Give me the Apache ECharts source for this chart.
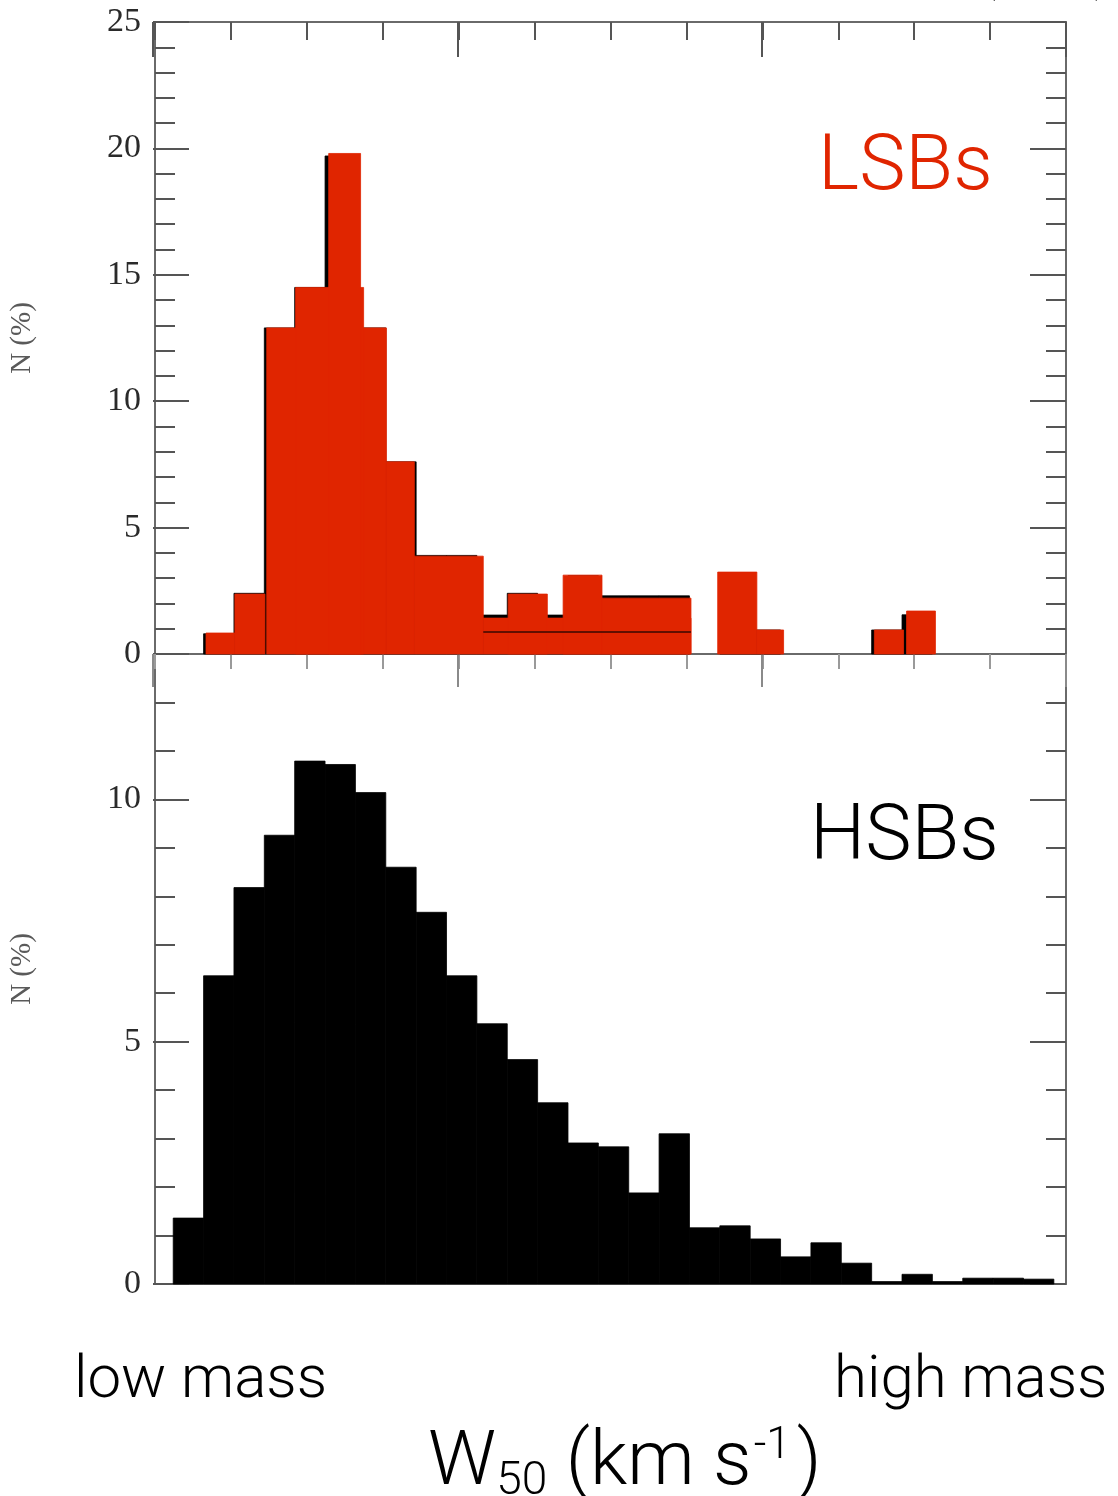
<!DOCTYPE html>
<html><head><meta charset="utf-8">
<script src="https://cdn.jsdelivr.net/npm/echarts@6/dist/echarts.min.js"></script>
<style>html,body{margin:0;padding:0;background:#fff}#c{width:1118px;height:1496px}</style>
</head><body><div id="c"></div>
<script>
// ---- LSB panel: red overlay blocks (W50 in km/s, N in %) ----
const lsbStart = [16.8, 26.3, 36.8, 46.3, 57.2, 76.2, 85.4, 108.1, 116.3, 134.4, 147.2, 185.3, 198.2, 236.9, 247.5];
const lsbEnd   = [26.3, 36.2, 76.2, 68.7, 67.7, 85.4, 108.1, 176.5, 129.2, 147.2, 176.5, 198.2, 207.0, 246.5, 257.0];
const lsbValue = [0.83, 2.37, 12.9, 14.5, 19.8, 7.6, 3.87, 1.42, 2.37, 3.12, 2.21, 3.24, 0.95, 0.95, 1.7];
// original black LSB histogram peeking out under the red blocks (10 km/s bins)
const lsbBinStart = [16, 26, 36, 46, 56, 66, 76, 86, 96, 106, 116, 126, 136, 146, 156, 166, 186, 196, 236, 246];
const lsbBinValue = [0.8, 2.4, 12.9, 14.5, 19.7, 12.9, 7.6, 3.9, 3.9, 1.54, 2.4, 1.54, 3.1, 2.3, 2.3, 2.3, 3.2, 0.95, 0.95, 1.55];
// thin seam line inside the red overlay
const lsbSeamX = [108.1, 176.5];
const lsbSeamY = 0.87;
// ---- HSB panel (10 km/s bins) ----
const hsbBinStart = [6, 16, 26, 36, 46, 56, 66, 76, 86, 96, 106, 116, 126, 136, 146, 156, 166, 176, 186, 196, 206, 216, 226, 236, 246, 256, 266, 276, 286];
const hsbValue    = [1.36, 6.36, 8.18, 9.26, 10.79, 10.72, 10.14, 8.6, 7.67, 6.36, 5.37, 4.63, 3.74, 2.91, 2.83, 1.88, 3.1, 1.16, 1.2, 0.93, 0.56, 0.85, 0.43, 0.05, 0.2, 0.05, 0.12, 0.12, 0.1];
const binWidth = 10;
// ---- tick labels ----
const topYLabels = [0, 5, 10, 15, 20, 25];
const bottomYLabels = [0, 5, 10];

const RED = '#e02500';
const AX = '#6a6a6a';
const chart = echarts.init(document.getElementById('c'), null, {renderer: 'canvas'});

function rectRenderer(fill) {
  return function (params, api) {
    const x0 = api.value(0), x1 = api.value(1), v = api.value(2);
    const p0 = api.coord([x0, v]), p1 = api.coord([x1, 0]);
    return {type: 'rect', shape: {x: p0[0], y: p0[1], width: p1[0] - p0[0], height: p1[1] - p0[1]},
            style: {fill: fill, stroke: fill, lineWidth: 0.8}};
  };
}

const lsbRed = lsbStart.map((s, i) => [s, lsbEnd[i], lsbValue[i]]);
const lsbBlack = lsbBinStart.map((s, i) => [s, s + binWidth, lsbBinValue[i]]);
const hsb = hsbBinStart.map((s, i) => [s, s + binWidth, hsbValue[i]]);

const labelStyle = {fontFamily: 'Liberation Serif', fontSize: 34, color: '#2a2a2a', margin: 14};
function yAx(grid, pos, interval, len, max, labels, withLine, name) {
  return {
    type: 'value', gridIndex: grid, position: pos, min: 0, max: max, interval: interval,
    axisLine: {show: withLine, onZero: false, lineStyle: {color: AX, width: 2}},
    axisTick: {show: len > 0, inside: true, length: len, lineStyle: {color: '#555', width: 2}},
    axisLabel: labels ? Object.assign({show: true, formatter: v => labels.includes(v) ? String(v) : ''}, labelStyle) : {show: false},
    splitLine: {show: false},
    name: name || '', nameLocation: 'middle', nameRotate: 90, nameGap: 118,
    nameTextStyle: {fontFamily: 'Liberation Serif', fontSize: 29, color: '#5a5a5a'}
  };
}
function xAx(grid, pos, interval, len, inside, withLine, tickColor) {
  return {
    type: 'value', gridIndex: grid, position: pos, min: 0, max: 300, interval: interval,
    axisLine: {show: withLine, onZero: false, lineStyle: {color: AX, width: 2}},
    axisTick: {show: len > 0, inside: inside, length: len, lineStyle: {color: tickColor, width: 2}},
    axisLabel: {show: false}, splitLine: {show: false}
  };
}
const topRect = {left: 153, right: 52, top: 22, height: 632};
const botRect = {left: 153, right: 52, top: 654, height: 630};

chart.setOption({
  backgroundColor: '#fff',
  animation: false,
  grid: [topRect, botRect, Object.assign({}, topRect), Object.assign({}, botRect), Object.assign({}, topRect)],
  xAxis: [
    xAx(0, 'top', 25, 18, true, true, '#555'),        // 0 top panel, top frame, minor ticks
    xAx(1, 'bottom', 100, 0, false, true, '#555'),    // 1 bottom panel frame
    xAx(2, 'top', 100, 35, true, false, '#555'),      // 2 top panel, top frame, major ticks
    xAx(3, 'bottom', 100, 0, false, false, '#555'),   // 3 hidden helper
    xAx(0, 'bottom', 25, 15, false, true, '#9a9a9a'), // 4 top panel bottom edge, minor ticks
    xAx(4, 'bottom', 100, 33, false, false, '#8a8a8a')// 5 top panel bottom edge, major ticks
  ],
  yAxis: [
    yAx(0, 'left', 1, 20, 25, topYLabels, true, 'N (%)'),
    yAx(0, 'right', 1, 20, 25, null, true),
    yAx(1, 'left', 1, 20, 13, bottomYLabels, true, 'N (%)'),
    yAx(1, 'right', 1, 20, 13, null, true),
    yAx(2, 'left', 5, 36, 25, null, false),
    yAx(2, 'right', 5, 36, 25, null, false),
    yAx(3, 'left', 5, 36, 13, null, false),
    yAx(3, 'right', 5, 36, 13, null, false),
    yAx(4, 'left', 5, 0, 25, null, false)
  ],
  series: [
    {type: 'custom', name: 'LSB original', xAxisIndex: 0, yAxisIndex: 0, z: 1, encode: {x: [0, 1], y: 2},
     renderItem: rectRenderer('#000'), data: lsbBlack},
    {type: 'custom', name: 'LSBs', xAxisIndex: 0, yAxisIndex: 0, z: 2, encode: {x: [0, 1], y: 2},
     renderItem: rectRenderer(RED), data: lsbRed},
    {type: 'line', name: 'seam', xAxisIndex: 0, yAxisIndex: 0, z: 3, symbol: 'none',
     lineStyle: {color: '#3a0800', width: 1.5}, data: lsbSeamX.map(x => [x, lsbSeamY])},
    {type: 'custom', name: 'HSBs', xAxisIndex: 1, yAxisIndex: 2, z: 2, encode: {x: [0, 1], y: 2},
     renderItem: rectRenderer('#000'), data: hsb}
  ],
  graphic: [
    {type: 'text', left: 818, top: 130, style: {text: 'LSBs', fill: RED, font: '300 78px Roboto, "Liberation Sans", sans-serif'}},
    {type: 'text', left: 810, top: 800, style: {text: 'HSBs', fill: '#000', font: '300 78px Roboto, "Liberation Sans", sans-serif'}},
    {type: 'text', left: 74, top: 1352, style: {text: 'low mass', fill: '#000', font: '300 60px Roboto, "Liberation Sans", sans-serif'}},
    {type: 'text', left: 834, top: 1352, style: {text: 'high mass', fill: '#000', font: '300 60px Roboto, "Liberation Sans", sans-serif'}},
    {type: 'text', left: 428, top: 1425, style: {
      text: '{a|W}{sub|50}{a| (km s}{sup|-1}{a|)}',
      rich: {
        a: {fontFamily: 'Roboto', fontWeight: 300, fontSize: 76, lineHeight: 80, color: '#000'},
        sub: {fontFamily: 'Roboto', fontWeight: 300, fontSize: 46, lineHeight: 60, verticalAlign: 'bottom', color: '#000'},
        sup: {fontFamily: 'Roboto', fontWeight: 300, fontSize: 44, lineHeight: 60, verticalAlign: 'top', color: '#000', padding: [0, 6, 0, 2]}
      }}},
    {type: 'text', left: 976, top: -62, style: {text: '(', fill: '#000', font: '300 64px Roboto, sans-serif'}},
    {type: 'text', left: 1094, top: -62, style: {text: ')', fill: '#000', font: '300 64px Roboto, sans-serif'}}
  ]
});
</script></body></html>
